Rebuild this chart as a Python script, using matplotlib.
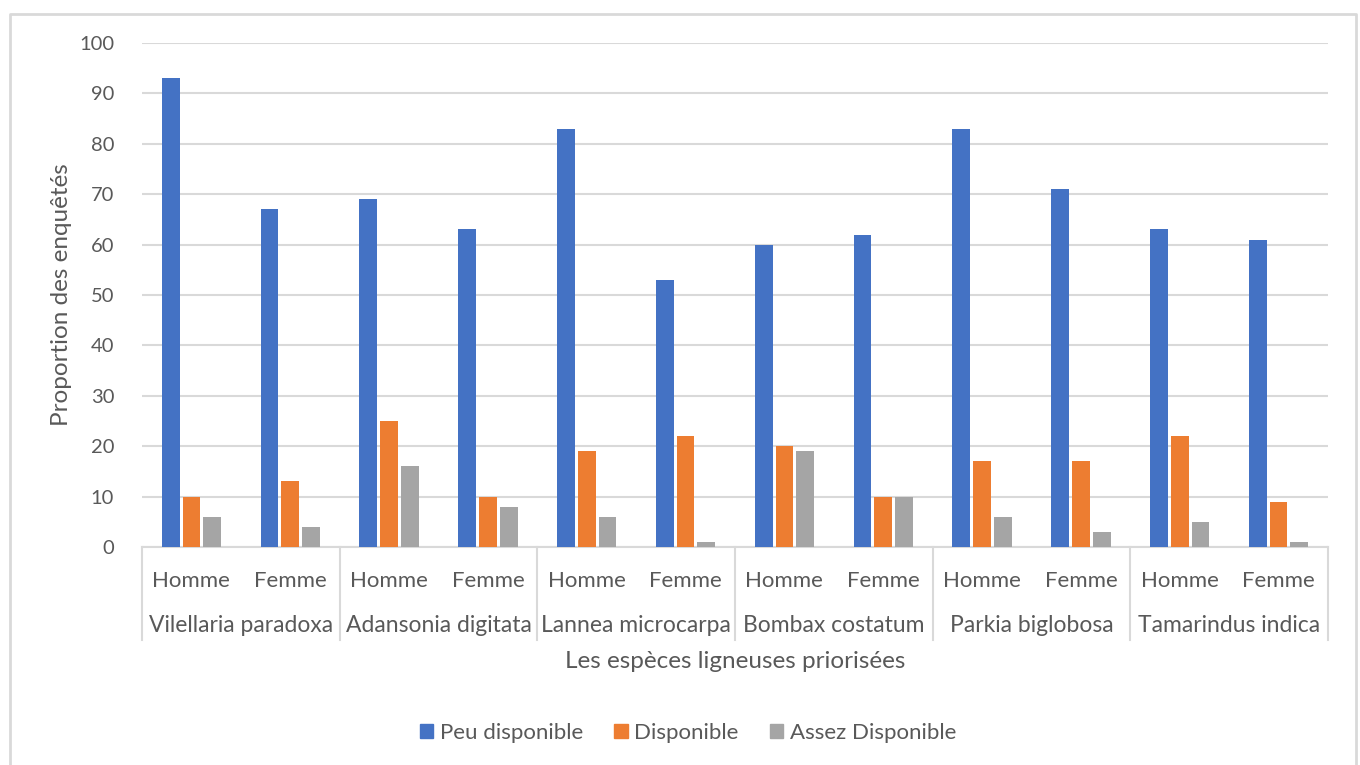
import matplotlib
matplotlib.use("Agg")
import matplotlib.pyplot as plt
from matplotlib.patches import Patch
from matplotlib.lines import Line2D
import matplotlib.transforms as mtransforms
import numpy as np

plt.rcParams['font.family'] = ['Lato', 'DejaVu Sans']

species = ["Vilellaria paradoxa", "Adansonia digitata", "Lannea microcarpa",
           "Bombax costatum", "Parkia biglobosa", "Tamarindus indica"]
sexes = ["Homme", "Femme"]
series_names = ["Peu disponible", "Disponible", "Assez Disponible"]
peu_disponible = [93, 67, 69, 63, 83, 53, 60, 62, 83, 71, 63, 61]
disponible = [10, 13, 25, 10, 19, 22, 20, 10, 17, 17, 22, 9]
assez_disponible = [6, 4, 16, 8, 6, 1, 19, 10, 6, 3, 5, 1]
colors = ["#4472C4", "#ED7D31", "#A5A5A5"]

text_color = "#595959"
grid_color = "#D9D9D9"

fig = plt.figure(figsize=(13.6, 7.65), dpi=100)
ax = fig.add_axes([142/1360, 1-547/765, (1328-142)/1360, (547-43)/765])

x = np.arange(len(peu_disponible))
w = 0.18
offs = [-0.21, 0.0, 0.21]
for vals, c, o, n in zip([peu_disponible, disponible, assez_disponible], colors, offs, series_names):
    ax.bar(x + o, vals, width=w, color=c, label=n, zorder=3)

ax.set_xlim(-0.5, len(x) - 0.5)
ax.set_ylim(0, 100)
ax.set_yticks(np.arange(0, 101, 10))
ax.yaxis.grid(True, color=grid_color, linewidth=1.5, zorder=0)
ax.set_axisbelow(True)
for s in ["top", "right", "left"]:
    ax.spines[s].set_visible(False)
ax.spines["bottom"].set_color(grid_color)
ax.spines["bottom"].set_linewidth(1.5)
ax.tick_params(axis="y", length=0, pad=20, labelsize=14.5, labelcolor=text_color)
ax.set_xticks(x)
ax.set_xticklabels([sexes[i % 2] for i in x])
ax.tick_params(axis="x", length=0, pad=17, labelsize=16, labelcolor=text_color)

trans = mtransforms.blended_transform_factory(ax.transData, ax.transAxes)
sep_bottom = -(640 - 547) / 504
for k in range(len(species) + 1):
    xb = -0.5 + 2 * k
    ax.plot([xb, xb], [0, sep_bottom], transform=trans, color=grid_color,
            linewidth=1.5, clip_on=False)
for k, sp in enumerate(species):
    ax.text(2 * k + 0.5, -(626 - 547) / 504, sp, transform=trans, ha="center",
            va="center", fontsize=16.5, color=text_color)

ax.set_ylabel("Proportion des enquêtés", fontsize=17.5, color=text_color)
ax.yaxis.set_label_coords(-(142 - 72) / 1186, 0.5)
fig.text(735/1360, 1 - 662/765, "Les espèces ligneuses priorisées", ha="center",
         va="center", fontsize=17.5, color=text_color)

handles = [Patch(facecolor=c, edgecolor=c) for c in colors]
leg = fig.legend(handles, series_names, loc="center", bbox_to_anchor=(688/1360, 1 - 733/765),
                 ncol=3, frameon=False, fontsize=16, handlelength=0.6, handleheight=0.6,
                 handletextpad=0.3, columnspacing=1.4, labelcolor=text_color)

# chart border (left, top, right; bottom edge is cut off)
xl, xr, yt = 10/1360, 1356/1360, 1 - 14/765
fig.add_artist(Line2D([xl, xl, xr, xr], [0, yt, yt, 0], transform=fig.transFigure,
                      color=grid_color, linewidth=2))

fig.savefig("out.png", dpi=100, facecolor="white")
